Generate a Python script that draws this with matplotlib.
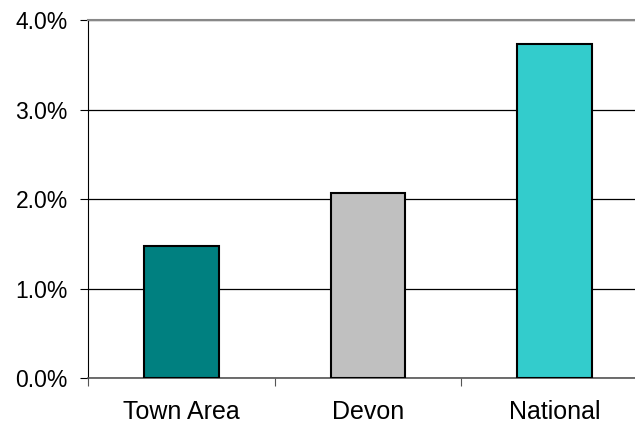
import matplotlib
matplotlib.use("Agg")
import matplotlib.pyplot as plt
from matplotlib.ticker import FuncFormatter

categories = ["Town Area", "Devon", "National"]
values = [1.48, 2.07, 3.73]  # percent
colours = ["#008080", "#C0C0C0", "#33CCCC"]
yticks = [0.0, 1.0, 2.0, 3.0, 4.0]

plt.rcParams["font.family"] = ["Liberation Sans", "DejaVu Sans"]

fig = plt.figure(figsize=(6.35, 4.3), dpi=100)
# plot area runs off the right edge of the picture, as in the reference
ax = fig.add_axes([88 / 635, 1 - 378 / 430, 560 / 635, 358 / 430])

x = list(range(len(categories)))
ax.bar(x, values, width=0.4, color=colours, edgecolor="black", linewidth=1.5, zorder=3)

ax.set_xlim(-0.5, len(categories) - 0.5)
ax.set_ylim(0, 4.0)
ax.set_yticks(yticks)
ax.yaxis.set_major_formatter(FuncFormatter(lambda v, p: "%.1f%%" % v))
ax.yaxis.grid(True, color="black", linewidth=0.9, zorder=0)

# category ticks sit on the boundaries, labels in the middle
ax.set_xticks([i - 0.5 for i in range(len(categories) + 1)])
ax.set_xticklabels([])
ax.set_xticks(x, minor=True)
ax.set_xticklabels(categories, minor=True)
ax.tick_params(axis="x", which="minor", length=0, pad=16, labelsize=18)
ax.tick_params(axis="x", which="major", length=6, color="#555555", direction="out")
ax.tick_params(axis="y", length=6, direction="out", labelsize=16.5, pad=8.5)

ax.spines["top"].set_color("#888888")
ax.spines["top"].set_linewidth(1.5)
ax.spines["right"].set_visible(False)
ax.spines["left"].set_color("black")
ax.spines["bottom"].set_color("#555555")
ax.spines["bottom"].set_linewidth(1.2)

fig.savefig("out.png", dpi=100)
